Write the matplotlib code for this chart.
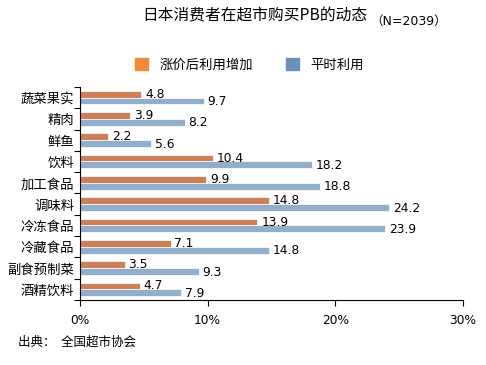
import numpy as np
import matplotlib.pyplot as plt
from matplotlib.patches import Patch

plt.rcParams['font.family'] = ['Noto Sans CJK SC', 'DejaVu Sans']

categories = ["蔬菜果实", "精肉", "鲜鱼", "饮料", "加工食品", "调味料", "冷冻食品", "冷藏食品", "副食预制菜", "酒精饮料"]
after_rise = [4.8, 3.9, 2.2, 10.4, 9.9, 14.8, 13.9, 7.1, 3.5, 4.7]
usual = [9.7, 8.2, 5.6, 18.2, 18.8, 24.2, 23.9, 14.8, 9.3, 7.9]
series_names = ["涨价后利用增加", "平时利用"]
xticks = [0, 10, 20, 30]

bar_orange = "#CD7F58"
bar_blue = "#93AECB"
leg_orange = "#F28A3C"
leg_blue = "#6E8FB8"

fig = plt.figure(figsize=(4.86, 3.65), dpi=100)
ax = fig.add_axes([0.1646, 0.178, 0.788, 0.584])

y = np.arange(len(categories))
h = 0.32
ax.barh(y - h / 2, after_rise, height=h, color=bar_orange, edgecolor="white", linewidth=0.5)
ax.barh(y + h / 2, usual, height=h, color=bar_blue, edgecolor="white", linewidth=0.5)

for yi, v in zip(y, after_rise):
    ax.text(v + 0.3, yi - h / 2, f"{v}", va="center", ha="left", fontsize=8.8, family=['DejaVu Sans'])
for yi, v in zip(y, usual):
    ax.text(v + 0.3, yi + h / 2 + 0.03, f"{v}", va="center", ha="left", fontsize=8.8, family=['DejaVu Sans'])

ax.set_ylim(len(categories) - 0.5, -0.5)
ax.set_xlim(0, 30)
ax.set_xticks(xticks)
ax.set_xticklabels([f"{t}%" for t in xticks], fontsize=8.8, family=['DejaVu Sans'])
ax.set_yticks(np.arange(-0.5, len(categories), 1), minor=False)
ax.set_yticklabels([])
ax.set_yticks(y, minor=True)
ax.set_yticklabels(categories, minor=True, fontsize=9.6)
ax.tick_params(axis="y", which="minor", length=0, pad=4)
ax.tick_params(axis="y", which="major", length=4, width=0.8)
ax.tick_params(axis="x", length=4, width=0.8, pad=6)
for s in ["top", "right"]:
    ax.spines[s].set_visible(False)
for s in ["left", "bottom"]:
    ax.spines[s].set_linewidth(0.8)

fig.text(0.756, 0.957, "日本消费者在超市购买PB的动态", ha="right", va="center", fontsize=11.3)
fig.text(0.762, 0.942, "（N=2039）", ha="left", va="center", fontsize=9, family=['DejaVu Sans', 'Noto Sans CJK SC'])

handles = [Patch(color=leg_orange), Patch(color=leg_blue)]
fig.legend(handles, series_names, loc="center", bbox_to_anchor=(0.513, 0.822), ncol=2,
           frameon=False, fontsize=9.6, handlelength=1.0, handleheight=1.0, columnspacing=2.5)

fig.text(0.037, 0.063, "出典：  全国超市协会", ha="left", va="center", fontsize=9)

fig.savefig("out.png", dpi=100)
